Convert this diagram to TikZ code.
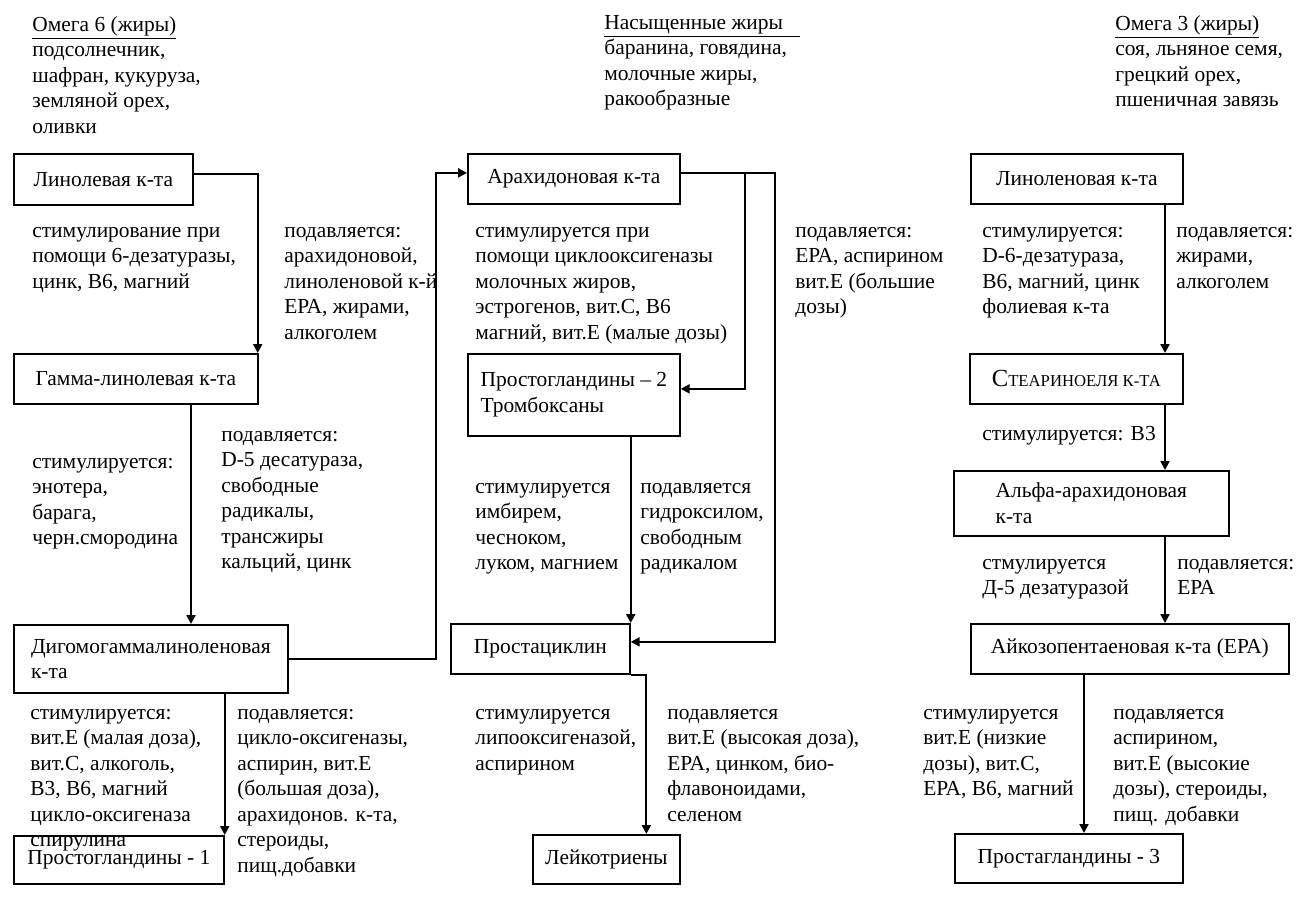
\documentclass[tikz,border=0pt]{standalone}
\usepackage{fontspec}
\setmainfont{Liberation Serif}
\usetikzlibrary{arrows.meta}

\begin{document}
\begin{tikzpicture}[
    x=0.02cm, y=-0.02cm,
    font=\fontsize{12.2}{14.5}\selectfont,
    box/.style={draw, line width=1pt, anchor=north west, inner sep=0pt},
    lbl/.style={anchor=north west, align=left, inner sep=0pt, execute at begin node=\strut},
    arrow/.style={-{Triangle[length=5pt,width=5pt]}, line width=1.2pt}
  ]
    \useasboundingbox (0,0) rectangle (1310,919);

    % sources (labels placed by top of first strut)
    \node[lbl] (omega6) at (32,16) {\underline{Омега 6 (жиры)}\\подсолнечник,\\шафран, кукуруза,\\земляной орех,\\оливки};
    \node[lbl] (satfat) at (604,15) {\underline{Насыщенные жиры\hspace{0.8em}}\\баранина, говядина,\\молочные жиры,\\ракообразные};
    \node[lbl] (omega3) at (1115,15) {\underline{Омега 3 (жиры)}\\соя, льняное семя,\\грецкий орех,\\пшеничная завязь};

    % omega 6 column
    \node[box, minimum width=3.58cm, minimum height=1.02cm] (lin) at (13,153) {Линолевая к-та};
    \node[box, minimum width=4.88cm, minimum height=1cm] (gam) at (13,353) {Гамма-линолевая к-та};
    \node[box, minimum width=5.48cm, minimum height=1.36cm, align=left] (dig) at (13,624) {Дигомогаммалиноленовая\\к-та};
    \node[box, minimum width=4.2cm, minimum height=0.96cm] (pg1) at (13,835) {\raisebox{-0.12cm}{Простогландины - 1}};

    % saturated column
    \node[box, minimum width=4.24cm, minimum height=1cm] (ara) at (467,153) {Арахидоновая к-та};
    \node[box, minimum width=4.24cm, minimum height=1.64cm, align=left] (pg2) at (467,353) {Простогландины -- 2\\Тромбоксаны};
    \node[box, minimum width=3.58cm, minimum height=1cm] (pci) at (450,623) {\raisebox{0.1cm}{Простациклин}};
    \node[box, minimum width=2.94cm, minimum height=0.98cm] (lei) at (532,834) {Лейкотриены};

    % omega 3 column
    \node[box, minimum width=4.24cm, minimum height=1cm] (lnl) at (970,153) {Линоленовая к-та};
    \node[box, minimum width=4.26cm, minimum height=1cm] (ste) at (969,353) {{\fontsize{14}{15}\selectfont С}{\fontsize{9.5}{10}\selectfont ТЕАРИНОЕЛЯ К-ТА}};
    \node[box, minimum width=5.5cm, minimum height=1.3cm, align=left] (alf) at (953,470) {Альфа-арахидоновая\\к-та};
    \node[box, minimum width=6.36cm, minimum height=1cm] (eic) at (970,623) {\raisebox{0.1cm}{Айкозопентаеновая к-та (ЕРА)}};
    \node[box, minimum width=4.56cm, minimum height=0.98cm] (pg3) at (954,833) {Простагландины - 3};

    \coordinate (lcol) at (191,0);
    \coordinate (rcol) at (1165,0);
    \coordinate (ecol) at (1084,0);

    % connectors
    \draw[arrow] ([yshift=0.1cm]lin.east) -| ([xshift=-0.02cm]gam.north east);
    \draw[arrow] (gam.south -| lcol) -- (dig.north -| lcol);
    \draw[arrow] (dig.east) -- ++(147,0) |- ([yshift=0.12cm]ara.west);
    \draw[arrow] (dig.south -| pg1.east) -- (pg1.north east);
    \draw[arrow] ([yshift=0.12cm]ara.east) -- ++(64,0) |- ([yshift=0.12cm]pg2.east);
    \draw[arrow] ([yshift=0.12cm]ara.east) -- ++(94,0) |- ([yshift=0.14cm]pci.east);
    \draw[arrow] (pg2.south -| pci.east) -- (pci.north east);
    \draw[arrow] (pci.south east) -| ([xshift=0.8cm]lei.north);
    \draw[arrow] (lnl.south -| rcol) -- (ste.north -| rcol);
    \draw[arrow] (ste.south -| rcol) -- (alf.north -| rcol);
    \draw[arrow] (alf.south -| rcol) -- (eic.north -| rcol);
    \draw[arrow] (eic.south -| ecol) -- (pg3.north -| ecol);

    % labels
    \node[lbl] (stim1) at (32,227) {стимулирование при\\помощи 6-дезатуразы,\\цинк, В6, магний};
    \node[lbl] (supp1) at (284,227) {подавляется:\\арахидоновой,\\линоленовой к-й\\ЕРА, жирами,\\алкоголем};
    \node[lbl] (stim2) at (475,227) {стимулируется при\\помощи циклооксигеназы\\молочных жиров,\\эстрогенов, вит.С, В6\\магний, вит.Е (малые дозы)};
    \node[lbl] (supp2) at (795,227) {подавляется:\\ЕРА, аспирином\\вит.Е (большие\\дозы)};
    \node[lbl] (stim3) at (982,227) {стимулируется:\\D-6-дезатураза,\\В6, магний, цинк\\фолиевая к-та};
    \node[lbl] (supp3) at (1176,227) {подавляется:\\жирами,\\алкоголем};
    \node[lbl] (supp4) at (221,431) {подавляется:\\D-5 десатураза,\\свободные\\радикалы,\\трансжиры\\кальций, цинк};
    \node[lbl] (stim4) at (32,458) {стимулируется:\\энотера,\\барага,\\черн.смородина};
    \node[lbl] (stim5) at (475,483) {стимулируется\\имбирем,\\чесноком,\\луком, магнием};
    \node[lbl] (supp5) at (640,483) {подавляется\\гидроксилом,\\свободным\\радикалом};
    \node[lbl] (stim6) at (982,422) {стимулируется: В3};
    \node[lbl] (stim7) at (982,559) {стмулируется\\Д-5 дезатуразой};
    \node[lbl] (supp7) at (1177,559) {подавляется:\\ЕРА};
    \node[lbl] (stim8) at (30,709) {стимулируется:\\вит.Е (малая доза),\\вит.С, алкоголь,\\В3, В6, магний\\цикло-оксигеназа\\спирулина};
    \node[lbl] (supp8) at (237,709) {подавляется:\\цикло-оксигеназы,\\аспирин, вит.Е\\(большая доза),\\арахидонов. к-та,\\стероиды,\\пищ.добавки};
    \node[lbl] (stim9) at (475,709) {стимулируется\\липооксигеназой,\\аспирином};
    \node[lbl] (supp9) at (667,709) {подавляется\\вит.Е (высокая доза),\\ЕРА, цинком, био-\\флавоноидами,\\селеном};
    \node[lbl] (stim10) at (923,709) {стимулируется\\вит.Е (низкие\\дозы), вит.С,\\ЕРА, В6, магний};
    \node[lbl] (supp10) at (1113,709) {подавляется\\аспирином,\\вит.Е (высокие\\дозы), стероиды,\\пищ. добавки};
\end{tikzpicture}
\end{document}
